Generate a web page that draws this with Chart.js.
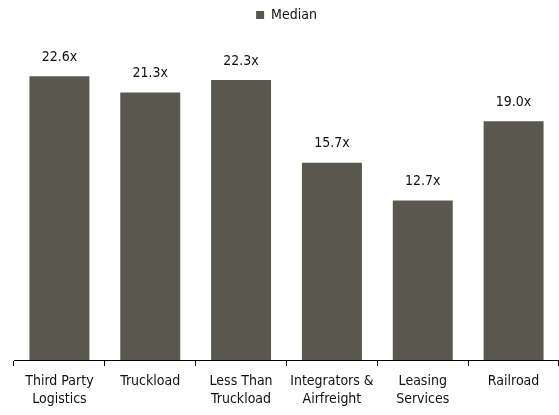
<!DOCTYPE html>
<html>
<head>
<meta charset="utf-8">
<script src="https://cdn.jsdelivr.net/npm/chart.js@4/dist/chart.umd.min.js"></script>
<style>
  html, body { margin: 0; padding: 0; background: #fff; }
  #wrap { width: 559px; height: 415px; }
</style>
</head>
<body>
<div id="wrap"><canvas id="chart"></canvas></div>
<script>
const categories = [
  ["Third Party", "Logistics"],
  ["Truckload"],
  ["Less Than", "Truckload"],
  ["Integrators &", "Airfreight"],
  ["Leasing", "Services"],
  ["Railroad"],
];
const medianValues = [22.6, 21.3, 22.3, 15.7, 12.7, 19.0];

const FONT = "'Liberation Sans Narrow', 'DejaVu Sans Condensed', sans-serif";
const BAR_COLOR = "#58584e";

// value labels above each bar, e.g. "22.6x"
const barLabels = {
  id: "barLabels",
  afterDatasetsDraw(chart) {
    const { ctx } = chart;
    const meta = chart.getDatasetMeta(0);
    ctx.save();
    ctx.font = "14px " + FONT;
    ctx.fillStyle = "#111";
    ctx.textAlign = "center";
    ctx.textBaseline = "bottom";
    meta.data.forEach((bar, i) => {
      const v = chart.data.datasets[0].data[i];
      ctx.fillText(v.toFixed(1) + "x", bar.x, bar.y - 12);
    });
    ctx.restore();
  },
};

// extra room under the legend
const legendGap = {
  id: "legendGap",
  beforeInit(chart) {
    const fit = chart.legend.fit;
    chart.legend.fit = function () {
      fit.bind(chart.legend)();
      this.height += 14;
    };
  },
};

new Chart(document.getElementById("chart"), {
  type: "bar",
  data: {
    labels: categories,
    datasets: [
      {
        label: "Median",
        data: medianValues,
        backgroundColor: BAR_COLOR,
        barPercentage: 0.66,
        categoryPercentage: 1,
      },
    ],
  },
  options: {
    responsive: true,
    maintainAspectRatio: false,
    animation: false,
    layout: {
      padding: { top: 0, left: 14, right: 0, bottom: 0 },
    },
    plugins: {
      legend: {
        position: "top",
        labels: {
          boxWidth: 8,
          boxHeight: 8,
          padding: 8,
          color: "#111",
          font: { family: FONT, size: 14 },
        },
      },
      tooltip: { enabled: false },
    },
    scales: {
      x: {
        grid: {
          drawOnChartArea: false,
          drawTicks: true,
          tickLength: 6,
          color: "#000",
        },
        border: { color: "#000", width: 1 },
        ticks: {
          color: "#111",
          padding: 7,
          maxRotation: 0,
          font: { family: FONT, size: 14, lineHeight: 1.25 },
        },
      },
      y: {
        display: false,
        min: 0,
        max: 25,
      },
    },
  },
  plugins: [barLabels, legendGap],
});
</script>
</body>
</html>
